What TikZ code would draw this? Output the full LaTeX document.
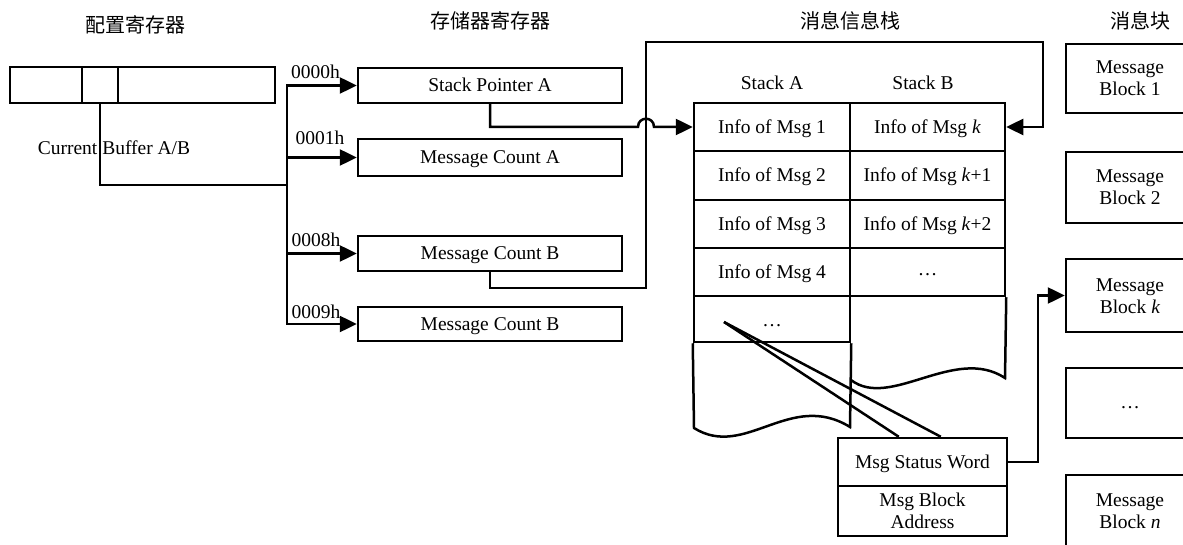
\documentclass[tikz,border=0pt]{standalone}
\usepackage{fontspec}
\setmainfont{Liberation Serif}
\newfontfamily\cjk{Noto Sans CJK SC}
\usetikzlibrary{arrows.meta}
\begin{document}
\begin{tikzpicture}[x=1pt,y=-1pt,
  every node/.style={font=\fontsize{19.5}{22}\selectfont, inner sep=0pt, text height=15pt, text depth=2pt},
  title/.style={font=\cjk\fontsize{20}{22}\selectfont},
  box/.style={draw, line width=2.5pt, align=center},
  two/.style={text height=37pt, text depth=2pt},
  line/.style={line width=2.5pt},
  arr/.style={line width=2.5pt, -{Triangle[length=17pt,width=16pt]}}]
\useasboundingbox (0,0) rectangle (1183,545);

% titles
\node[title] (t1) at (135,26) {配置寄存器};
\node[title] (t2) at (490,22) {存储器寄存器};
\node[title] (t3) at (850,22) {消息信息栈};
\node[title] (t4) at (1140,22) {消息块};

% configuration register
\node[box, minimum width=72, minimum height=36] (c1) at (46,85) {};
\node[box, minimum width=36, minimum height=36] (c2) at (100,85) {};
\node[box, minimum width=157, minimum height=36] (c3) at (196.5,85) {};
\node (cb) at (114,148) {Current Buffer A/B};

% memory registers
\node[box, minimum width=264, minimum height=35] (sp) at (490,85.5) {Stack Pointer A};
\node[box, minimum width=264, minimum height=37] (mca) at (490,157.5) {Message Count A};
\node[box, minimum width=264, minimum height=35] (mcb) at (490,253.5) {Message Count B};
\node[box, minimum width=264, minimum height=34] (mcb2) at (490,324) {Message Count B};

\node (h0) at (315.5,72) {0000h};
\node (h1) at (320,138) {0001h};
\node (h8) at (316,240) {0008h};
\node (h9) at (316,312) {0009h};

\coordinate (bus) at (287,185);
\draw[line] (c2.south) |- (bus);
\draw[arr] (bus) |- (sp.west);
\draw[arr] (bus) |- (mca.west);
\draw[arr] (bus) |- (mcb.west);
\draw[arr] (bus) |- (mcb2.west);

% message info stack
\node (sa) at (772,83) {Stack A};
\node (sb) at (923,83) {Stack B};
\node[box, minimum width=156, minimum height=48] (a1) at (772,127) {Info of Msg 1};
\node[box, minimum width=156, minimum height=49] (a2) at (772,175.5) {Info of Msg 2};
\node[box, minimum width=156, minimum height=48] (a3) at (772,224) {Info of Msg 3};
\node[box, minimum width=156, minimum height=48] (a4) at (772,272) {Info of Msg 4};
\node[box, minimum width=156, minimum height=46] (a5) at (772,319) {};
\node (a5d) at (772,319.5) {\dots};
\node[box, minimum width=155, minimum height=48] (b1) at (927.5,127) {Info of Msg \textit{k}};
\node[box, minimum width=155, minimum height=49] (b2) at (927.5,175.5) {Info of Msg \textit{k}+1};
\node[box, minimum width=155, minimum height=48] (b3) at (927.5,224) {Info of Msg \textit{k}+2};
\node[box, minimum width=155, minimum height=48] (b4) at (927.5,272) {};
\node (b4d) at (927.5,269.5) {\dots};

\draw[line] (a5.south west) -- (694,428) .. controls (745,460) and (790,390) .. (850,427) -- (a5.south east);
\draw[line] (b4.south east) -- (1005,378) .. controls (955,345) and (890,410) .. (851,380);

% status word / block address
\node[box, minimum width=169, minimum height=48] (msw) at (922.5,462) {Msg Status Word};
\node[box, two, minimum width=169, minimum height=50] (mba) at (922.5,511) {Msg Block\\Address};
\coordinate (ap) at (724,322);
\draw[line] (ap) -- ([xshift=62pt]msw.north west);
\draw[line] (ap) -- ([xshift=104pt]msw.north west);

% message blocks
\node[box, two, minimum width=128, minimum height=69] (mb1) at (1130,78.5) {Message\\Block 1};
\node[box, two, minimum width=128, minimum height=71] (mb2) at (1130,187.5) {Message\\Block 2};
\node[box, two, minimum width=128, minimum height=73] (mbk) at (1130,295.5) {Message\\Block \textit{k}};
\node[box, minimum width=128, minimum height=70] (mbd) at (1130,403) {};
\node (mbdd) at (1130,401.5) {\dots};
\node[box, two, minimum width=128, minimum height=72] (mbn) at (1130,511) {Message\\Block \textit{n}};

% connectors
\draw[arr] (sp.south) |- (638,127) .. controls (638,116) and (654,116) .. (654,127) -- (a1.west);
\draw[arr] (mcb.south) |- (646,288) -- (646,42) -- (1043,42) |- (b1.east);
\coordinate (j1) at (1038,462);
\draw[arr] (msw.east) -- (j1) |- (mbk.west);
\end{tikzpicture}
\end{document}
